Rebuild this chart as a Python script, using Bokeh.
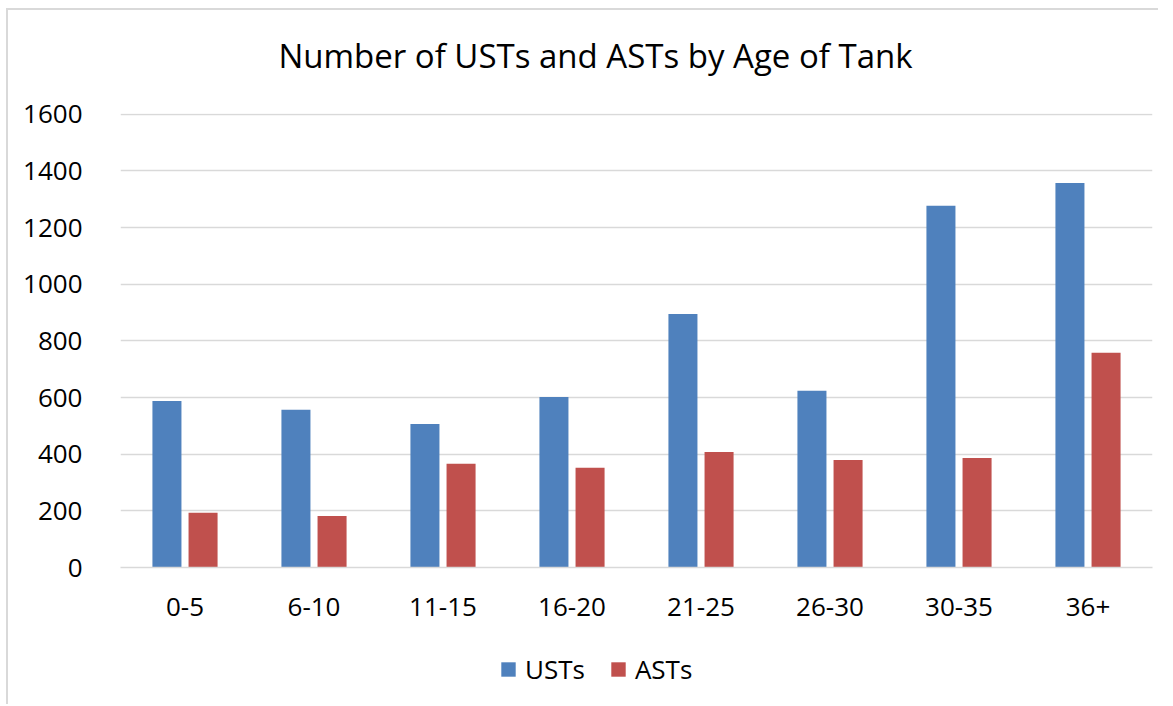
from bokeh.plotting import figure
from bokeh.layouts import column
from bokeh.models import ColumnDataSource, FixedTicker, Legend, LegendItem, Label, Range1d
from bokeh.transform import dodge
from bokeh.embed import file_html
from bokeh.resources import INLINE

title_text = "Number of USTs and ASTs by Age of Tank"
categories = ["0-5", "6-10", "11-15", "16-20", "21-25", "26-30", "30-35", "36+"]
usts = [588, 557, 507, 602, 895, 624, 1277, 1358]
asts = [193, 182, 366, 352, 408, 380, 387, 758]
y_ticks = [0, 200, 400, 600, 800, 1000, 1200, 1400, 1600]
series_names = ["USTs", "ASTs"]
series_colors = ["#4F81BD", "#C0504D"]

source = ColumnDataSource(data=dict(cat=categories, usts=usts, asts=asts))

FONT = "Open Sans"
W = 1150
BL, BR = 112, 6

# ---- title strip ----
t = figure(width=W, height=80, x_range=Range1d(0, 1032), y_range=Range1d(0, 80),
           output_backend="svg", toolbar_location=None,
           x_axis_type=None, y_axis_type=None,
           min_border_left=BL, min_border_right=BR, min_border_top=0, min_border_bottom=0)
t.outline_line_color = None
t.grid.visible = False
t.add_layout(Label(x=475, y=35, text=title_text, text_align="center",
                   text_baseline="alphabetic", text_font=FONT, text_font_size="33px",
                   text_color="#000000"))

# ---- main chart ----
p = figure(x_range=categories, y_range=(0, 1603), width=W, height=540,
           output_backend="svg", toolbar_location=None,
           min_border_left=BL, min_border_right=BR, min_border_top=23, min_border_bottom=63)

r1 = p.vbar(x=dodge("cat", -0.14, range=p.x_range), top="usts", width=0.225, source=source,
            fill_color=series_colors[0], line_color=None)
r2 = p.vbar(x=dodge("cat", 0.14, range=p.x_range), top="asts", width=0.225, source=source,
            fill_color=series_colors[1], line_color=None)

p.outline_line_color = None
p.xgrid.grid_line_color = None
p.ygrid.grid_line_color = "#D9D9D9"
p.ygrid.grid_line_width = 1.5
p.yaxis.ticker = FixedTicker(ticks=y_ticks)

p.yaxis.axis_line_color = None
p.yaxis.major_tick_line_color = None
p.yaxis.minor_tick_line_color = None
p.yaxis.major_label_standoff = 32
p.yaxis.major_label_text_font = FONT
p.yaxis.major_label_text_font_size = "26px"
p.yaxis.major_label_text_color = "#000000"

p.xaxis.axis_line_color = "#D9D9D9"
p.xaxis.axis_line_width = 1.5
p.xaxis.major_tick_line_color = None
p.xaxis.minor_tick_line_color = None
p.xaxis.major_label_standoff = 24
p.xaxis.major_label_text_font = FONT
p.xaxis.major_label_text_font_size = "26px"
p.xaxis.major_label_text_color = "#000000"

# ---- legend strip ----
q = figure(width=W, height=74, x_range=p.x_range, y_range=Range1d(5000, 6000),
           output_backend="svg", toolbar_location=None,
           x_axis_type=None, y_axis_type=None,
           min_border_left=BL, min_border_right=BR, min_border_top=0, min_border_bottom=0)
q.outline_line_color = None
q.grid.visible = False
l1 = q.vbar(x=dodge("cat", -0.14, range=p.x_range), top="usts", width=0.225, source=source,
            fill_color=series_colors[0], line_color=None)
l2 = q.vbar(x=dodge("cat", 0.14, range=p.x_range), top="asts", width=0.225, source=source,
            fill_color=series_colors[1], line_color=None)
legend = Legend(items=[LegendItem(label=series_names[0], renderers=[l1]),
                       LegendItem(label=series_names[1], renderers=[l2])],
                orientation="horizontal", location=(379, 17),
                glyph_width=18, glyph_height=18, label_standoff=8, spacing=24,
                padding=0, margin=0, border_line_color=None, background_fill_alpha=0,
                label_text_font=FONT, label_text_font_size="26px", label_text_color="#000000")
q.add_layout(legend, "center")

layout = column(t, p, q, spacing=0,
                styles={"margin-left": "6px", "margin-top": "8px",
                        "border-left": "2px solid #D9D9D9", "border-top": "2px solid #D9D9D9"})

open("out.html", "w").write(file_html(layout, INLINE))
